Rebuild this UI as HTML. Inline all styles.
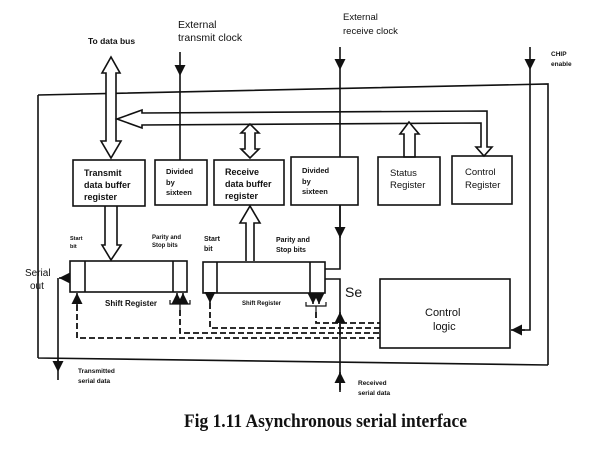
<!DOCTYPE html>
<html><head><meta charset="utf-8"><style>
html,body{margin:0;padding:0;background:#fff;width:600px;height:450px;overflow:hidden}
text{font-family:"Liberation Sans",sans-serif;fill:#111}
</style></head><body>
<svg width="600" height="450" viewBox="0 0 600 450" xmlns="http://www.w3.org/2000/svg">
<defs>
<marker id="a" viewBox="0 0 10 10" refX="10" refY="5" markerWidth="7" markerHeight="7" orient="auto"><path d="M0,0L10,5L0,10z" fill="#111"/></marker>
</defs>
<g stroke="#111" stroke-width="1.6" fill="none">
<!-- outer box -->
<path d="M38,95 L38,358 M38,95 L548,84 L548,365 M38,358 L548,365"/>
<!-- data bus vertical double arrow -->
<path d="M111,57 L102,73 L106,73 L106,141 L101,141 L111,158 L121,141 L116,141 L116,73 L120,73 Z" fill="#fff"/>
<!-- horizontal bus -->
<path d="M117,119 L142,110 L142,113 L487,111 L487,147 L492,147 L484,156 L476,147 L481,147 L481,123 L142,125 L142,128 Z" fill="#fff"/>
<!-- receive small double arrow -->
<path d="M250,124 L241,133 L245,133 L245,149 L241,149 L250,158 L259,149 L255,149 L255,133 L259,133 Z" fill="#fff"/>
<!-- status arrow -->
<path d="M409,122 L400,134 L404,134 L404,157 L415,157 L415,134 L419,134 Z" fill="#fff"/>
<!-- transmit down arrow -->
<path d="M105,206 L105,245 L102,245 L111,260 L121,245 L117,245 L117,206" fill="#fff"/>
<!-- receive up arrow -->
<path d="M246,261 L246,223 L240,223 L250,206 L260,223 L254,223 L254,261" fill="#fff"/>
<!-- boxes -->
<rect x="73" y="160" width="72" height="46"/>
<rect x="155" y="160" width="52" height="45"/>
<rect x="214" y="160" width="70" height="45"/>
<rect x="291" y="157" width="67" height="48"/>
<rect x="378" y="157" width="62" height="48"/>
<rect x="452" y="156" width="60" height="48"/>
<rect x="380" y="279" width="130" height="69"/>
<!-- shift registers -->
<rect x="70" y="261" width="117" height="31"/>
<path d="M85,261 V292 M173,261 V292"/>
<rect x="203" y="262" width="122" height="31"/>
<path d="M217,262 V293 M310,262 V293"/>
<!-- transmit clock -->
<path d="M180,52 L180,76" marker-end="url(#a)"/>
<path d="M180,76 L180,160"/>
<!-- receive clock -->
<path d="M340,47 L340,70" marker-end="url(#a)"/>
<path d="M340,70 L340,157 M340,205 L340,236"/>
<path d="M340,205 L340,238" marker-end="url(#a)"/>
<path d="M340,236 L340,269 L325,269"/>
<path d="M325,279 L340,279 L340,390"/>
<path d="M340,335 L340,312" marker-end="url(#a)"/>
<path d="M340,392 L340,372" marker-end="url(#a)"/>
<!-- chip enable -->
<path d="M530,47 L530,70" marker-end="url(#a)"/>
<path d="M530,70 L530,330 L520,330"/>
<path d="M525,330 L511,330" marker-end="url(#a)"/>
<!-- serial out -->
<path d="M70,278 L59,278" marker-end="url(#a)"/>
<path d="M58,278 L58,364"/>
<path d="M58,360 L58,372" marker-end="url(#a)"/>
<path d="M58,372 L58,380"/>
<!-- start bit arrows -->
<path d="M77,305 L77,293" marker-end="url(#a)"/>
<path d="M210,293 L210,303" marker-end="url(#a)"/>
<!-- parity arrows -->
<path d="M177,304 L177,293" marker-end="url(#a)"/>
<path d="M183,304 L183,293" marker-end="url(#a)"/>
<path d="M313,293 L313,304" marker-end="url(#a)"/>
<path d="M319,293 L319,304" marker-end="url(#a)"/>
<path d="M170,300 L170,304 L190,304 L190,300 M180,304 L180,310" stroke-width="1.2"/>
<path d="M306,302 L306,306 L326,306 L326,302 M316,306 L316,312" stroke-width="1.2"/>
</g>
<!-- dashed -->
<g stroke="#111" stroke-width="1.8" fill="none" stroke-dasharray="6,3">
<path d="M77,305 L77,338 L380,338"/>
<path d="M180,310 L180,333 L380,333"/>
<path d="M210,303 L210,328 L380,328"/>
<path d="M316,312 L316,323 L380,323"/>
</g>
<!-- labels -->
<text x="88" y="44" font-size="8.5" font-weight="bold">To data bus</text>
<text x="178" y="28" font-size="10.5">External</text>
<text x="178" y="41" font-size="10.5">transmit clock</text>
<text x="343" y="20" font-size="9.5">External</text>
<text x="343" y="34" font-size="9.5">receive clock</text>
<text x="551" y="56" font-size="6.5" font-weight="bold">CHIP</text>
<text x="551" y="66" font-size="6.5" font-weight="bold">enable</text>
<text x="84" y="176" font-size="9" font-weight="bold">Transmit</text>
<text x="84" y="188" font-size="9" font-weight="bold">data buffer</text>
<text x="84" y="200" font-size="9" font-weight="bold">register</text>
<text x="166" y="174" font-size="7.5" font-weight="bold">Divided</text>
<text x="166" y="185" font-size="7.5" font-weight="bold">by</text>
<text x="166" y="195" font-size="7.5" font-weight="bold">sixteen</text>
<text x="225" y="175" font-size="9" font-weight="bold">Receive</text>
<text x="225" y="187" font-size="9" font-weight="bold">data buffer</text>
<text x="225" y="199" font-size="9" font-weight="bold">register</text>
<text x="302" y="173" font-size="7.5" font-weight="bold">Divided</text>
<text x="302" y="184" font-size="7.5" font-weight="bold">by</text>
<text x="302" y="194" font-size="7.5" font-weight="bold">sixteen</text>
<text x="390" y="176" font-size="9.5">Status</text>
<text x="390" y="188" font-size="9.5">Register</text>
<text x="465" y="175" font-size="9.5">Control</text>
<text x="465" y="188" font-size="9.5">Register</text>
<text x="70" y="240" font-size="5.5" font-weight="bold">Start</text>
<text x="70" y="248" font-size="5.5" font-weight="bold">bit</text>
<text x="152" y="239" font-size="6" font-weight="bold">Parity and</text>
<text x="152" y="247" font-size="6" font-weight="bold">Stop bits</text>
<text x="204" y="241" font-size="7" font-weight="bold">Start</text>
<text x="204" y="251" font-size="7" font-weight="bold">bit</text>
<text x="276" y="242" font-size="7" font-weight="bold">Parity and</text>
<text x="276" y="252" font-size="7" font-weight="bold">Stop bits</text>
<text x="25" y="276" font-size="10">Serial</text>
<text x="30" y="289" font-size="10">out</text>
<text x="105" y="306" font-size="8" font-weight="bold">Shift Register</text>
<text x="242" y="305" font-size="6" font-weight="bold">Shift Register</text>
<text x="345" y="297" font-size="14">Se</text>
<text x="425" y="316" font-size="11">Control</text>
<text x="433" y="330" font-size="11">logic</text>
<text x="78" y="373" font-size="6.5" font-weight="bold">Transmitted</text>
<text x="78" y="383" font-size="6.5" font-weight="bold">serial data</text>
<text x="358" y="385" font-size="6.5" font-weight="bold">Received</text>
<text x="358" y="395" font-size="6.5" font-weight="bold">serial data</text>
<text x="184" y="427" font-size="19" font-weight="bold" textLength="283" lengthAdjust="spacingAndGlyphs" style="font-family:'Liberation Serif',serif">Fig 1.11 Asynchronous serial interface</text>
</svg>
</body></html>
